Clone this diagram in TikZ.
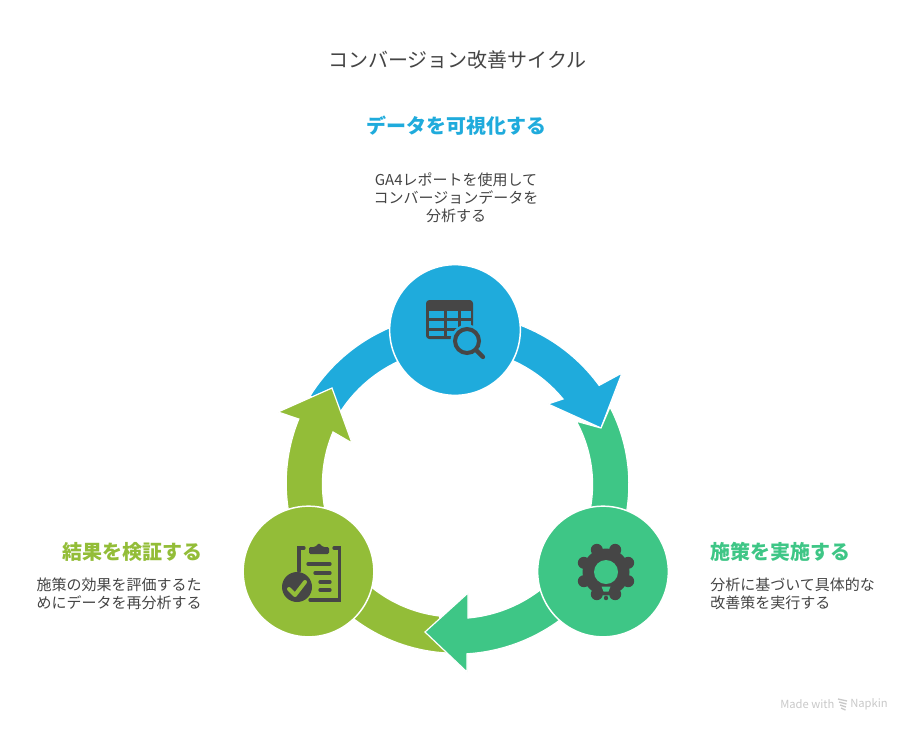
\documentclass[tikz,border=0pt]{standalone}
\usepackage{fontspec}
\setmainfont{Noto Sans CJK JP}
\usetikzlibrary{positioning}
\definecolor{cycBlue}{RGB}{31,171,220}
\definecolor{cycGreen}{RGB}{62,198,134}
\definecolor{cycOlive}{RGB}{147,189,56}
\definecolor{inkicon}{RGB}{70,70,70}
\definecolor{inktext}{RGB}{68,68,68}
\definecolor{inkmark}{RGB}{200,200,200}
\tikzset{
  ringarm/.style={draw=white,line width=0.9pt,line join=miter},
  stage/.style={circle,draw=white,line width=1.1pt,minimum size=98pt,inner sep=0pt},
  headtext/.style={font=\fontsize{15}{18}\selectfont\bfseries,inner sep=0pt},
  bodytext/.style={font=\fontsize{11.25}{13.6}\selectfont,text=inktext,inner sep=0pt},
  iconline/.style={draw=inkicon,line width=2.5pt,line cap=round}
}
\begin{document}
\begin{tikzpicture}[x=0.75pt,y=0.75pt]
  \useasboundingbox (0,0) rectangle (912,-732);
  \node[font=\fontsize{15}{18}\selectfont,text=inktext,inner sep=0pt] (title) at (457.5,-60) {コンバージョン改善サイクル};
  % arms of the ring
  \fill[cycBlue,ringarm] (343,-412) -- (310,-396) arc[start angle=148.1,end angle=36.1,radius=174.5]
    -- (622,-373) -- (601,-428) -- (548,-404) -- (563,-399)
    arc[start angle=39.4,end angle=146.4,radius=138] -- cycle;
  \fill[cycOlive,ringarm] (447,-653) arc[start angle=266.9,end angle=157.8,radius=170]
    -- (278,-412) -- (332,-388) -- (352,-443) -- (333,-432)
    arc[start angle=157,end angle=263.1,radius=133] -- cycle;
  \fill[cycGreen,ringarm] (610,-407) arc[start angle=27,end angle=-86.3,x radius=173,y radius=170]
    -- (467,-672) -- (425,-632) -- (468,-593) -- (468,-618)
    arc[start angle=-84.8,end angle=28.2,x radius=137,y radius=134] -- (601,-428) -- cycle;
  % stages
  \node[stage,fill=cycBlue] (analyse) at (455,-330) {};
  \node[stage,fill=cycGreen] (apply) at (603,-571.5) {};
  \node[stage,fill=cycOlive] (verify) at (308.5,-571.5) {};
  % table and lens
  \fill[inkicon,rounded corners=2.5pt] (426,-300) rectangle (473,-339);
  \foreach \xa/\xb in {429/444,447/458,461/471}
    \foreach \ya/\yb in {311/318,321/328,331/336}
      \fill[cycBlue] (\xa,-\ya) rectangle (\xb,-\yb);
  \fill[cycBlue] (467,-341) circle[radius=16.5];
  \draw[inkicon,line width=3pt] (467,-341) circle[radius=12];
  \draw[inkicon,line width=3.2pt,line cap=round] (476,-350) -- (483,-357);
  % gear and bulb
  \fill[inkicon] (606,-572) circle[radius=23.5];
  \foreach \ang in {22.5,67.5,...,337.5}
    \fill[inkicon] (606,-572) ++(\ang:24) circle[radius=6];
  \fill[cycGreen] (606,-572) circle[radius=12];
  \fill[cycGreen] (601.5,-586.5) -- (610.5,-586.5) -- (608.5,-591.5) -- (603.5,-591.5) -- cycle;
  \fill[inkicon] (606,-598) circle[radius=2.2];
  % clipboard
  \draw[iconline] (304,-548) -- (299,-548) -- (299,-571);
  \draw[iconline] (334,-548) -- (339.5,-548) -- (339.5,-600) -- (310,-600);
  \fill[inkicon,rounded corners=1pt] (309,-554) -- (309,-547) -- (315,-547) -- (319,-543) -- (323,-547) -- (329,-547) -- (329,-554) -- cycle;
  \foreach \ya/\xa in {564/308,573/315,582/320,590/320}
    \draw[iconline] (\xa,-\ya) -- (330,-\ya);
  \fill[inkicon] (297,-587) circle[radius=15];
  \draw[cycOlive,line width=3pt,line cap=round,line join=round] (289,-589) -- (295,-595) -- (305,-582);
  % labels
  \node[headtext,text=cycBlue] (analysehead) at (456.5,-126) {データを可視化する};
  \node[bodytext,align=center] (analysebody) at (456,-198) {GA4レポートを使用して\\コンバージョンデータを\\分析する};
  \node[headtext,text=cycGreen,anchor=west] (applyhead) at (710,-552) {施策を実施する};
  \node[bodytext,align=left,anchor=west] (applybody) at (710,-594) {分析に基づいて具体的な\\改善策を実行する};
  \node[headtext,text=cycOlive,anchor=east] (verifyhead) at (203,-552) {結果を検証する};
  \node[bodytext,align=right,anchor=east] (verifybody) at (202,-594) {施策の効果を評価するた\\めにデータを再分析する};
  % mark
  \node[font=\fontsize{8.4}{10}\selectfont,text=inkmark,inner sep=0pt,anchor=west] (madewith) at (780,-704) {Made with};
  \node[font=\fontsize{8.4}{10}\selectfont,text=inkmark,inner sep=0pt,anchor=east] (napkin) at (888,-704) {Napkin};
  \foreach \ya in {0,1,2,3}
    \draw[inkmark,line width=1pt] (838+\ya,-699-3*\ya) -- (847-\ya*0.5,-701-3*\ya);
\end{tikzpicture}
\end{document}
